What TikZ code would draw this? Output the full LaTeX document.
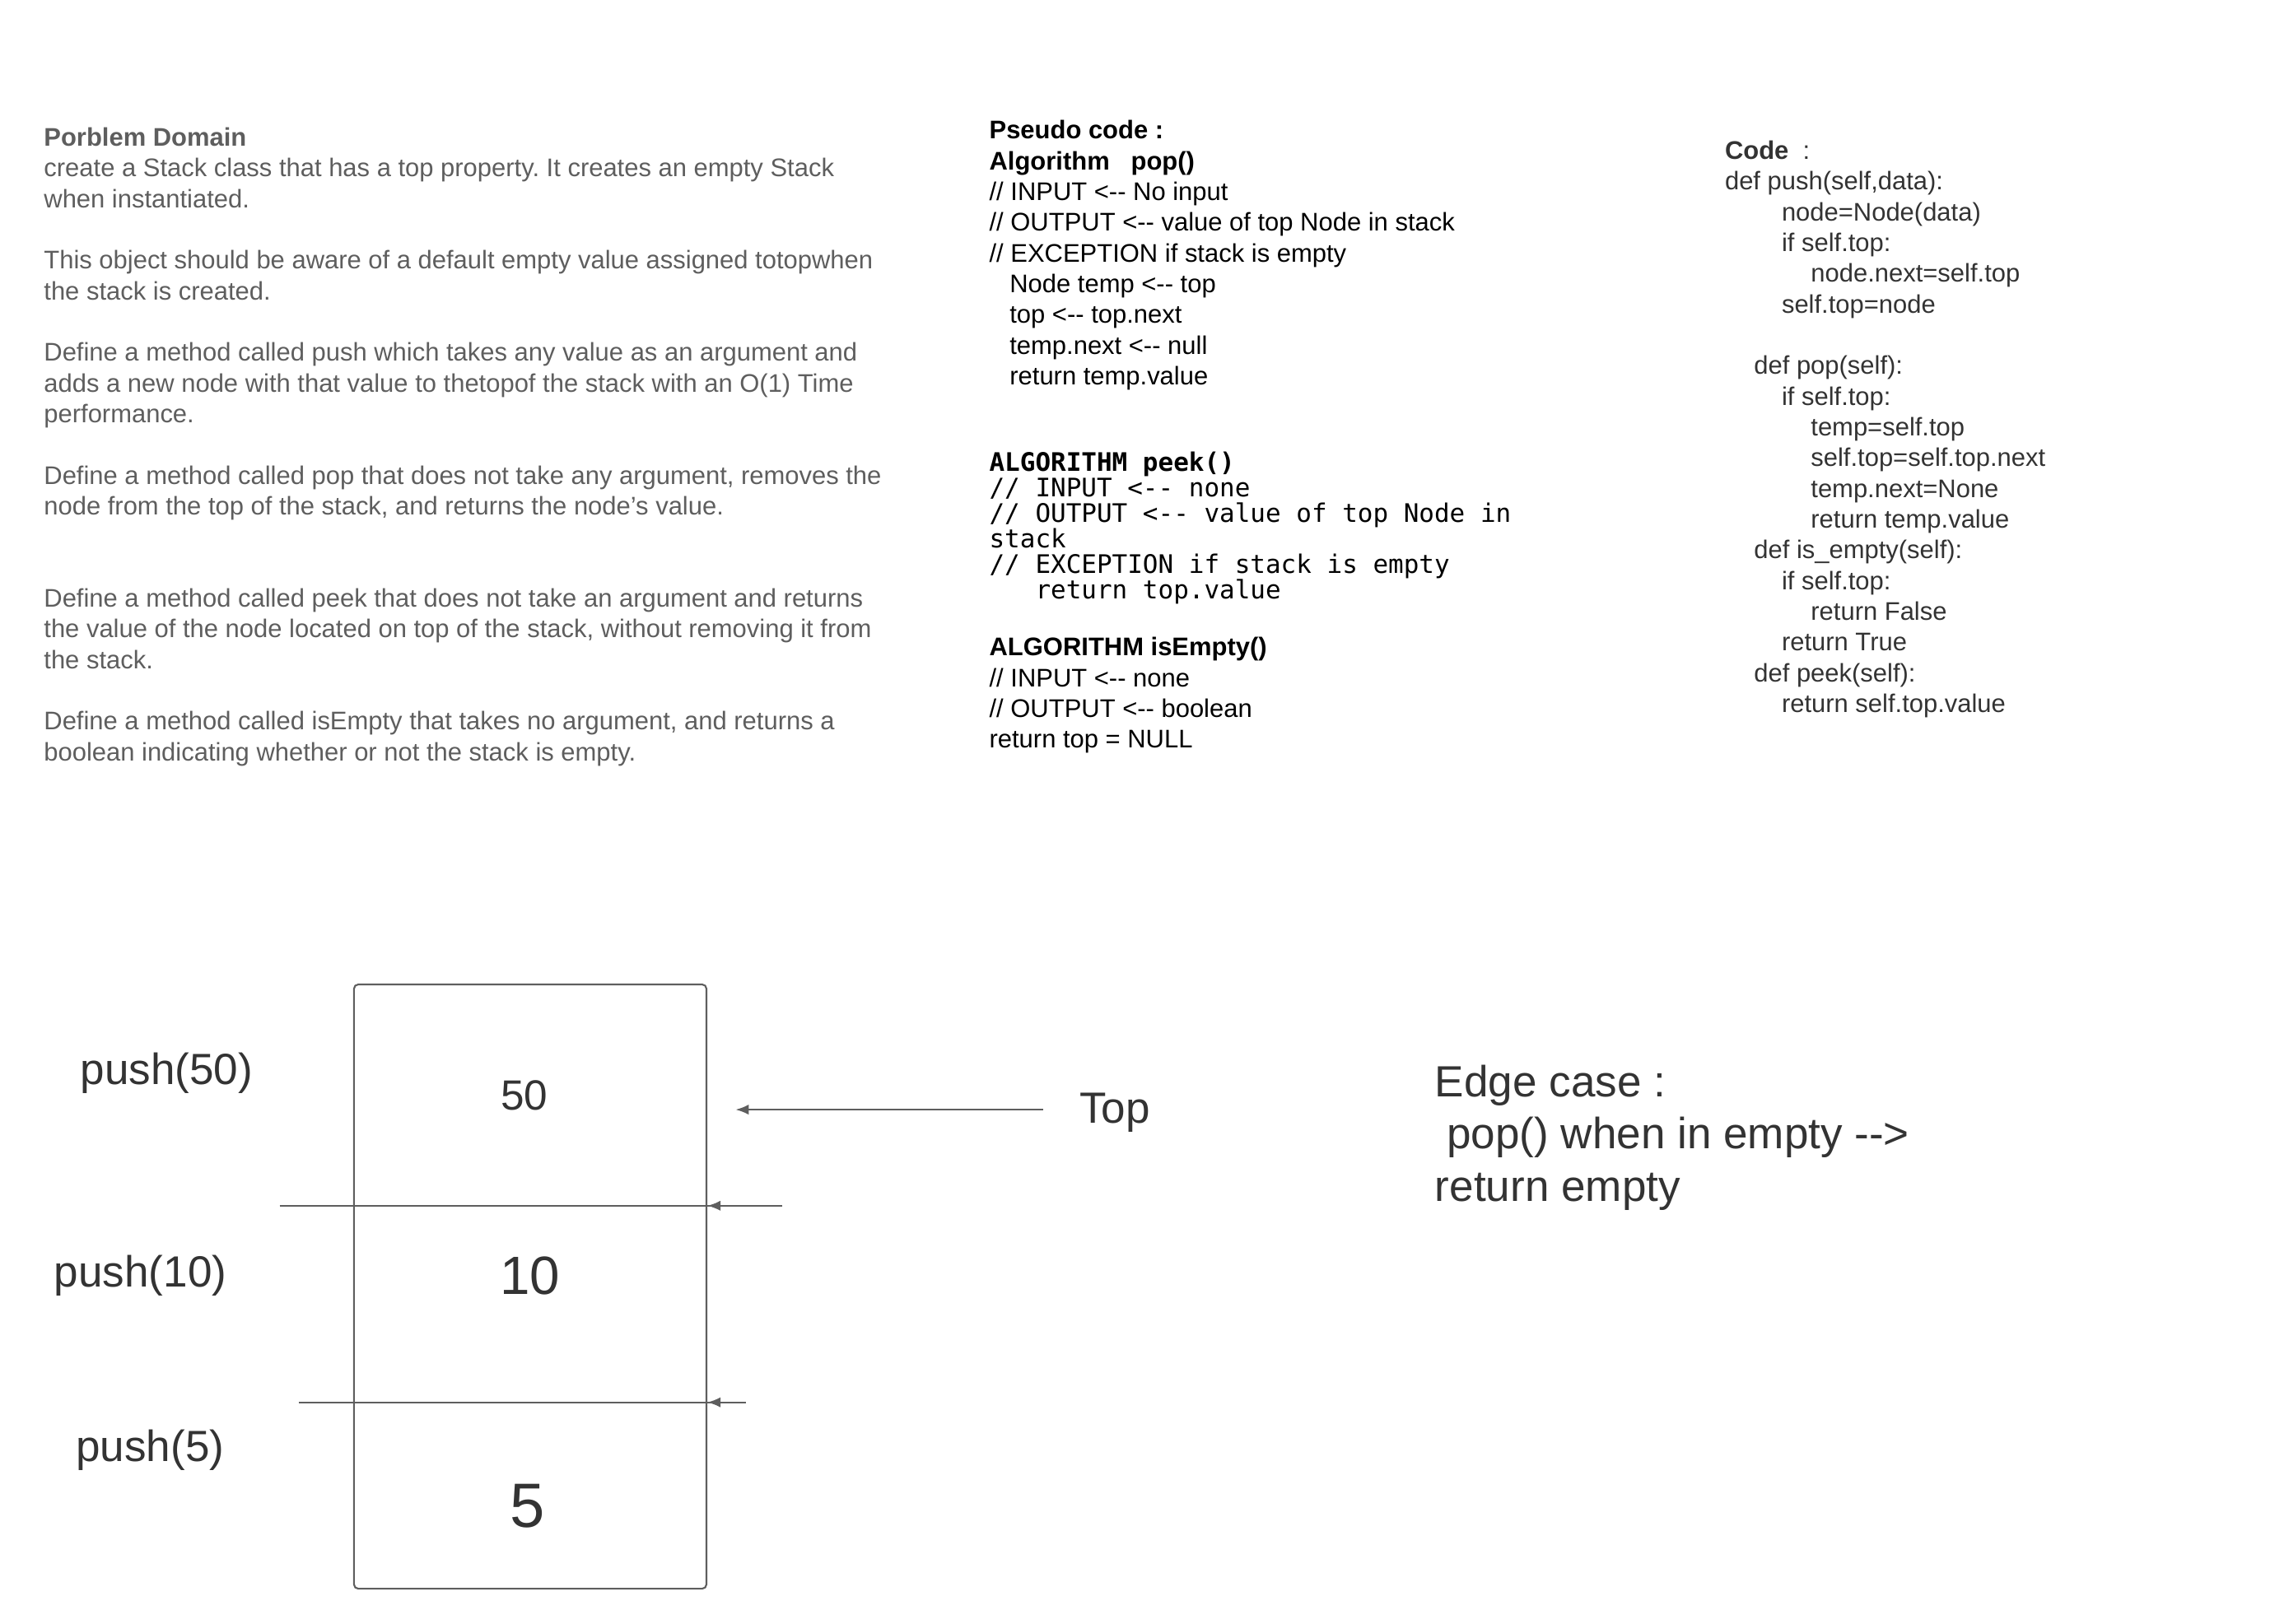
\documentclass[tikz,border=0pt]{standalone}
\usepackage{fontspec}
\setmainfont{Liberation Sans}
\setmonofont{DejaVu Sans Mono}
\usetikzlibrary{arrows.meta,positioning}
\definecolor{NoteGray}{HTML}{5E5E5E}
\definecolor{CodeGray}{HTML}{333333}
\definecolor{StackGray}{HTML}{5E5E5E}
\frenchspacing

\begin{document}
\begin{tikzpicture}[x=1pt,y=-1pt]
    \tikzset{textblock/.style={anchor=north west,inner sep=0pt,align=left,font=\fontsize{17.5}{21.1}\selectfont},
      monoblock/.style={textblock,font=\ttfamily\fontsize{17.5}{17.6}\selectfont},
      biglabel/.style={inner sep=0pt,font=\fontsize{30}{36}\selectfont,text=CodeGray},
      cutline/.style={StackGray,line width=1.2pt},
      pointer/.style={-{Latex[length=9pt,width=7pt]},StackGray,line width=1.2pt}}
    \useasboundingbox (0,0) rectangle (1568,1115);
    % problem domain
    \node[textblock,text=NoteGray] (domain) at (30,87.5) {\textbf{Porblem Domain}\\
      create a Stack class that has a top property. It creates an empty Stack\\
      when instantiated.\\[21.1pt]
      This object should be aware of a default empty value assigned totopwhen\\
      the stack is created.\\[21.1pt]
      Define a method called push which takes any value as an argument and\\
      adds a new node with that value to thetopof the stack with an O(1) Time\\
      performance.\\[21.1pt]
      Define a method called pop that does not take any argument, removes the\\
      node from the top of the stack, and returns the node’s value.\\[42.2pt]
      Define a method called peek that does not take an argument and returns\\
      the value of the node located on top of the stack, without removing it from\\
      the stack.\\[21.1pt]
      Define a method called isEmpty that takes no argument, and returns a\\
      boolean indicating whether or not the stack is empty.};
    % pseudo code
    \node[textblock] (popalgo) at (679,82.5) {\textbf{Pseudo code :}\\
      \textbf{Algorithm \ \ pop()}\\
      // INPUT <-{}- No input\\
      // OUTPUT <-{}- value of top Node in stack\\
      // EXCEPTION if stack is empty\\
      \hspace*{14pt}Node temp <-{}- top\\
      \hspace*{14pt}top <-{}- top.next\\
      \hspace*{14pt}temp.next <-{}- null\\
      \hspace*{14pt}return temp.value};
    \node[monoblock] (peekalgo) at (679,310) {\textbf{ALGORITHM peek()}\\
      // INPUT <-{}- none\\
      // OUTPUT <-{}- value of top Node in\\
      stack\\
      // EXCEPTION if stack is empty\\
      \hphantom{xxx}return top.value};
    \node[textblock] (emptyalgo) at (679,437.5) {\textbf{ALGORITHM isEmpty()}\\
      // INPUT <-{}- none\\
      // OUTPUT <-{}- boolean\\
      return top = NULL};
    % python code
    \node[textblock,text=CodeGray] (pycode) at (1184,96.5) {\textbf{Code} \ :\\
      def push(self,data):\\
      \hspace*{39pt}node=Node(data)\\
      \hspace*{39pt}if self.top:\\
      \hspace*{59pt}node.next=self.top\\
      \hspace*{39pt}self.top=node\\[21.1pt]
      \hspace*{20pt}def pop(self):\\
      \hspace*{39pt}if self.top:\\
      \hspace*{59pt}temp=self.top\\
      \hspace*{59pt}self.top=self.top.next\\
      \hspace*{59pt}temp.next=None\\
      \hspace*{59pt}return temp.value\\
      \hspace*{20pt}def is\_empty(self):\\
      \hspace*{39pt}if self.top:\\
      \hspace*{59pt}return False\\
      \hspace*{39pt}return True\\
      \hspace*{20pt}def peek(self):\\
      \hspace*{39pt}return self.top.value};
    % stack drawing
    \node[draw=StackGray,line width=1.2pt,rounded corners=3pt,minimum width=242pt,minimum height=415pt,inner sep=0pt] (stack) at (364,883.5) {};
    \node[biglabel,font=\fontsize{29}{35}\selectfont] (val50) at (360,752) {50};
    \node[biglabel,font=\fontsize{37}{44}\selectfont] (val10) at (364,876) {10};
    \node[biglabel,font=\fontsize{43}{52}\selectfont] (val5) at (362,1034) {5};
    \node[biglabel,anchor=west] (push50) at (55,737) {push(50)};
    \node[biglabel,anchor=west] (push10) at (37,876) {push(10)};
    \node[biglabel,anchor=west] (push5) at (52,996) {push(5)};
    \coordinate (cut1w) at (192,828);
    \coordinate (cut1e) at (537,828);
    \coordinate (cut2w) at (205,963);
    \coordinate (cut2e) at (512,963);
    \draw[cutline] (cut1w) -- (cut1e);
    \draw[cutline] (cut2w) -- (cut2e);
    \draw[pointer] (cut1e) -- (stack.east |- cut1e);
    \draw[pointer] (cut2e) -- (stack.east |- cut2e);
    \coordinate (topfrom) at (716,762);
    \coordinate (toptip) at (505,762);
    \draw[pointer] (topfrom) -- (toptip);
    \node[biglabel,right=25pt of topfrom,yshift=-2pt] (toplbl) {Top};
    % edge case
    \node[anchor=north west,inner sep=0pt,align=left,font=\fontsize{30}{36}\selectfont,text=CodeGray] (edge) at (985,731) {Edge case :\\
      \hspace*{8pt}pop() when in empty -{}->\\
      return empty};
\end{tikzpicture}
\end{document}
